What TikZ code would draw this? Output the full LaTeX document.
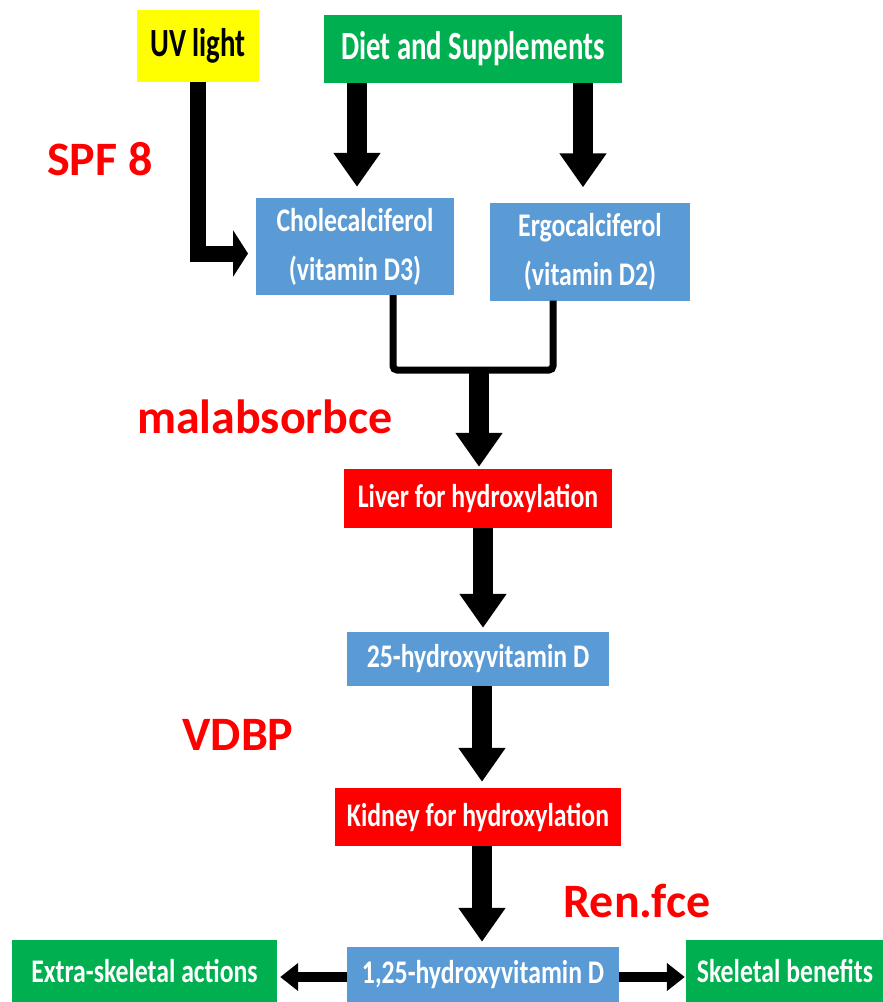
\documentclass[tikz,border=0pt]{standalone}
\usepackage{fontspec}
\setmainfont{Carlito}
\newfontfamily\boxfont[FakeStretch=0.78]{Carlito}
\newfontfamily\topfont[FakeStretch=0.72]{Carlito}
\usetikzlibrary{arrows.meta}
\definecolor{boxblue}{RGB}{91,155,213}
\definecolor{boxgreen}{RGB}{0,176,80}
\definecolor{boxred}{RGB}{255,0,0}
\definecolor{boxyellow}{RGB}{255,255,0}
\definecolor{lblred}{RGB}{255,0,0}
\tikzset{
  base/.style={rectangle, inner sep=0pt, align=center, text=white,
    font=\boxfont\bfseries\fontsize{33}{49}\selectfont},
  bluebox/.style={base, fill=boxblue},
  greenbox/.style={base, fill=boxgreen},
  redbox/.style={base, fill=boxred},
  yellowbox/.style={base, fill=boxyellow, text=black},
  topbox/.style={font=\topfont\bfseries\fontsize{40}{46}\selectfont},
  lbl/.style={text=lblred, font=\bfseries\fontsize{48}{52}\selectfont, inner sep=0pt},
  bigarrow/.style={line width=20pt, -{Triangle[width=45pt,length=34pt]}},
  elbowarrow/.style={line width=16pt, -{Triangle[width=46pt,length=15pt]}},
  sidearrow/.style={line width=10pt, -{Triangle[width=27pt,length=18pt]}},
  bracket/.style={line width=7pt, rounded corners=4pt}
}
\begin{document}
\begin{tikzpicture}[x=1pt,y=-1pt]
\useasboundingbox (0,0) rectangle (883,1002);
% boxes
\node[yellowbox, topbox, minimum width=122pt, minimum height=72pt] (uv) at (198,46) {UV light};
\node[greenbox, topbox, minimum width=298pt, minimum height=68pt] (diet) at (473,49) {Diet and Supplements};
\node[bluebox, minimum width=198pt, minimum height=97pt] (chole) at (355,246.5) {Cholecalciferol\\(vitamin D3)};
\node[bluebox, minimum width=200pt, minimum height=98pt] (ergo) at (590,251.5) {Ergocalciferol\\(vitamin D2)};
\node[redbox, minimum width=268pt, minimum height=59pt] (liver) at (478,498.5) {Liver for hydroxylation};
\node[bluebox, minimum width=262pt, minimum height=54pt] (h25) at (478,659) {25-hydroxyvitamin D};
\node[redbox, minimum width=286pt, minimum height=58pt] (kidney) at (478,817) {Kidney for hydroxylation};
\node[bluebox, minimum width=272pt, minimum height=56pt] (h125) at (483,975) {1,25-hydroxyvitamin D};
\node[greenbox, minimum width=265pt, minimum height=63pt] (extra) at (144.5,971.5) {Extra-skeletal actions};
\node[greenbox, minimum width=198pt, minimum height=63pt] (skel) at (785,971.5) {Skeletal benefits};
% labels
\node[lbl] (spf) at (100,159) {SPF 8};
\node[lbl] (malab) at (265,417) {malabsorbce};
\node[lbl] (vdbp) at (238,735) {VDBP};
\node[lbl] (renfce) at (637,901) {Ren.fce};
% connectors
\coordinate (uvbend) at (198,253.5);
\coordinate (uvtip) at (248,253.5);
\draw[elbowarrow] (uvbend |- uv.south) -- (uvbend) -- (uvtip);
\coordinate (dl) at (357,0);
\coordinate (dr) at (583,0);
\draw[bigarrow, shorten >=11pt] (dl |- diet.south) -- (dl |- chole.north);
\draw[bigarrow, shorten >=15pt] (dr |- diet.south) -- (dr |- ergo.north);
\coordinate (bl) at (393,370);
\coordinate (br) at (553,370);
\draw[bracket] (bl |- chole.south) -- (bl) -- (br) -- (br |- ergo.south);
\coordinate (join) at (479,367);
\draw[bigarrow, shorten >=2pt] (join) -- (join |- liver.north);
\coordinate (c1) at (483,0);
\coordinate (c2) at (482,0);
\draw[bigarrow, shorten >=4pt] (c1 |- liver.south) -- (c1 |- h25.north);
\draw[bigarrow, shorten >=6pt] (c2 |- h25.south) -- (c2 |- kidney.north);
\draw[bigarrow, shorten >=5pt] (c2 |- kidney.south) -- (c2 |- h125.north);
\draw[sidearrow, shorten >=3pt] ([yshift=-2pt]h125.west) -- ([yshift=-2pt]extra.east |- h125.west);
\draw[sidearrow, shorten >=1pt] ([yshift=-2pt]h125.east) -- ([yshift=-2pt]skel.west |- h125.east);
\end{tikzpicture}
\end{document}
